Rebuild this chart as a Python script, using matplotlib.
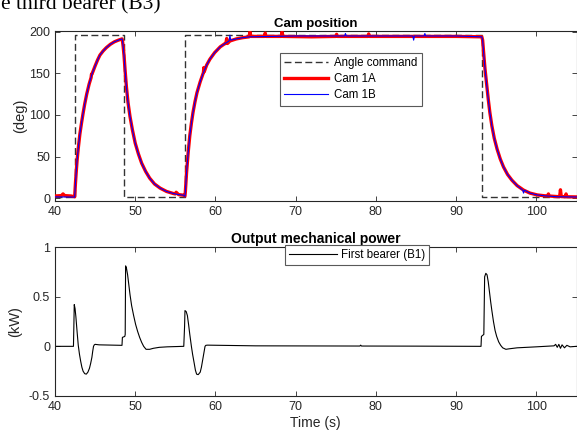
import matplotlib
matplotlib.use("Agg")
import matplotlib.pyplot as plt

# angle command (step levels, deg)
cmd_t = [40, 42.45, 48.55, 56.15, 93.25, 105]
cmd_v = [1.5, 196, 1.5, 196, 1.5, 1.5]

# Cam 1A (red)
cam1a_t = [40, 40.8, 41.0, 41.2, 42.0, 42.45,
           42.55, 42.65, 42.75, 42.9, 43.1, 43.3, 43.5, 43.7, 43.95, 44.25, 44.5, 44.55,
           44.6, 45.0, 45.3, 45.6, 46.0, 46.4, 46.9, 47.4, 47.9, 48.35,
           48.4, 48.5, 48.6, 48.75, 48.9, 49.1, 49.35, 49.65, 50.0, 50.4, 50.8, 51.3,
           51.8, 52.4, 53.1, 53.9, 54.75, 55.0, 55.1, 55.4, 56.0, 56.2,
           56.25, 56.4, 56.6, 56.8, 57.0, 57.2, 57.45, 57.7, 58.1, 58.5, 58.55, 58.6,
           58.9, 59.3, 59.9, 60.6, 61.2, 61.3, 61.4, 61.5, 61.8, 62.6, 63.4,
           64.2, 64.3, 64.4, 66.1, 66.2, 66.3, 68.2, 68.3, 68.4, 72, 75.0, 75.1, 75.2,
           79.0, 79.1, 79.2, 85, 90, 93.2,
           93.3, 93.45, 93.6, 93.8, 94.0, 94.2, 94.45, 94.75, 95.1, 95.5, 95.9, 96.4,
           96.95, 97.6, 98.4, 99.2, 100.1, 101.0, 101.4, 101.5, 101.6, 102.6, 102.9,
           103.0, 103.1, 103.6, 103.7, 103.8, 105]
cam1a_v = [2.5, 3, 5, 3, 2.5, 1.5,
           18, 32, 45, 60, 77, 90, 102, 113, 125, 137, 145, 149,
           149, 159, 166, 172, 177, 181, 185, 188, 190, 191.5,
           190, 182, 172, 152, 134, 115, 98, 82, 66, 53, 42, 32,
           24, 17, 12, 8, 5.5, 5, 7, 4.2, 3.5, 2.5,
           8, 31, 55, 75, 90, 103, 116, 127, 140, 151, 157, 152,
           160, 167, 175, 182, 186, 186, 192, 186, 189, 191.5, 193,
           194, 200, 194.5, 194.5, 198.5, 194.5, 194.5, 200, 194.5, 194, 194.5, 197, 194.5,
           194.5, 197.5, 194.5, 194.5, 194.5, 194,
           190, 172, 155, 137, 119, 103, 87, 72, 59, 47, 37.5, 28.5,
           21.5, 15, 9.6, 6, 3.8, 2.8, 2.6, 5, 2.5, 1.8, 1.8,
           10, 1.8, 1.6, 5, 1.6, 1.4]

# Cam 1B (blue)
cam1b_t = [40, 42.45,
           42.55, 42.65, 42.75, 42.9, 43.1, 43.3, 43.5, 43.7, 43.95, 44.25, 44.6, 45.0,
           45.3, 45.6, 46.0, 46.4, 46.9, 47.4, 47.9, 48.35,
           48.4, 48.5, 48.6, 48.75, 48.9, 49.1, 49.35, 49.65, 50.0, 50.4, 50.8, 51.3,
           51.8, 52.4, 53.1, 53.9, 54.75, 55.4, 56.0, 56.2,
           56.25, 56.4, 56.6, 56.8, 57.0, 57.2, 57.45, 57.7, 58.1, 58.5, 58.9, 59.3,
           59.9, 60.6, 61.2, 61.7, 61.8, 61.9, 62.6, 63.4, 64.3, 70, 76.1, 76.2, 76.3,
           84.6, 84.7, 84.8, 86.0, 86.1, 86.2, 90, 93.2,
           93.3, 93.45, 93.6, 93.8, 94.0, 94.2, 94.45, 94.75, 95.1, 95.5, 95.9, 96.4,
           96.95, 97.6, 98.3, 98.4, 98.5, 99.2, 100.1, 101.0, 102.6, 105]
cam1b_v = [1.5, 1.2,
           18, 32, 45, 60, 77, 90, 102, 113, 125, 137, 149, 159,
           166, 172, 177, 181, 185, 188, 190, 191.5,
           190, 182, 172, 152, 134, 115, 98, 82, 66, 53, 42, 32,
           24, 17, 12, 8, 5.5, 4.2, 3.5, 2,
           8, 31, 55, 75, 90, 103, 116, 127, 140, 151, 160, 167,
           175, 182, 186, 189, 196, 190, 191.5, 193, 194, 195, 195, 198, 195,
           195, 190, 195, 195, 198, 195, 195, 194,
           190, 172, 155, 137, 119, 103, 87, 72, 59, 47, 37.5, 28.5,
           21.5, 15, 9.6, 6, 9.6, 6, 3.8, 2.8, 1.6, 1.3]

# output mechanical power of first bearer (kW)
pw_t = [40, 42.3, 42.35, 42.4, 42.5, 42.6, 42.75, 42.9, 43.05, 43.2, 43.35, 43.5, 43.7,
        43.9, 44.1, 44.3, 44.45, 44.6, 44.7, 44.8, 44.9, 45.0, 45.5, 48.35,
        48.4, 48.7, 48.75, 48.8, 48.9, 49.05, 49.2, 49.35, 49.55, 49.8, 50.05, 50.3,
        50.55, 50.8, 51.05, 51.35, 51.8, 52.25, 53, 54, 56.05,
        56.15, 56.2, 56.35, 56.5, 56.65, 56.8, 57.0, 57.15, 57.35, 57.5, 57.65, 57.85,
        58.1, 58.25, 58.4, 58.55, 58.7, 58.8, 59.0, 65, 78, 78.1, 78.2, 85, 93.1,
        93.15, 93.45, 93.55, 93.7, 93.85, 94.0, 94.15, 94.3, 94.45, 94.65, 94.85, 95.05,
        95.3, 95.55, 95.8, 96.2, 96.6, 97.6, 100, 102.2, 102.4, 102.6, 102.8, 103.0,
        103.2, 103.5, 103.8, 104.2, 105]
pw_v = [0, 0, 0.2, 0.42, 0.38, 0.30, 0.15, 0.01, -0.08, -0.15, -0.21, -0.25, -0.275,
        -0.28, -0.26, -0.22, -0.17, -0.11, -0.05, 0.0, 0.015, 0.02, 0.015, 0.01,
        0.09, 0.10, 0.12, 0.81, 0.79, 0.72, 0.62, 0.52, 0.41, 0.31, 0.22, 0.15,
        0.09, 0.04, 0.0, -0.03, -0.03, -0.02, -0.01, -0.005, 0.0,
        0.2, 0.36, 0.35, 0.31, 0.22, 0.12, 0.0, -0.08, -0.17, -0.24, -0.28, -0.285,
        -0.26, -0.21, -0.14, -0.07, 0.0, 0.01, 0.012, 0.005, 0.003, 0.012, 0.003, 0.002, 0.0,
        0.1, 0.12, 0.7, 0.735, 0.72, 0.65, 0.55, 0.45, 0.36, 0.25, 0.16, 0.10,
        0.045, 0.01, -0.015, -0.03, -0.025, -0.015, -0.005, 0.005, 0.02, -0.01, 0.02, -0.02,
        0.015, -0.015, 0.01, -0.005, 0.0]

xticks = [40, 50, 60, 70, 80, 90, 100]
cam_yticks = [0, 50, 100, 150, 200]
pw_yticks = [-0.5, 0, 0.5, 1]

plt.rcParams["font.family"] = ["Liberation Sans", "DejaVu Sans"]
plt.rcParams["font.size"] = 9
tc = "#262626"

fig = plt.figure(figsize=(5.77, 4.32), dpi=100)
W, H = 577.0, 432.0
ax1 = fig.add_axes([55 / W, 1 - 201 / H, 521.5 / W, 170 / H])
ax2 = fig.add_axes([55 / W, 1 - 396 / H, 521.5 / W, 149 / H])

fig.text(0.001, 1 - 9.5 / H, "e third bearer (B3)", family="Liberation Serif",
         fontsize=15.5, va="baseline", ha="left", color="black")

ax1.plot(cmd_t, cmd_v, drawstyle="steps-post", color="0.2",
         lw=1.0, ls=(0, (5, 2.5)), label="Angle command", zorder=2)
ax1.plot(cam1a_t, cam1a_v, color="#ff0000", lw=2.4, label="Cam 1A", zorder=3)
ax1.plot(cam1b_t, cam1b_v, color="#0000ff", lw=0.8, label="Cam 1B", zorder=4)
ax1.set_xlim(40, 105)
ax1.set_ylim(-3.5, 201)
ax1.set_yticks(cam_yticks)
ax1.set_xticks(xticks)
ax1.set_title("Cam position", fontweight="bold", fontsize=9.5, pad=3, color="black")
ax1.set_ylabel("(deg)", color=tc, fontsize=10.5)
ax1.yaxis.set_label_coords(-0.054, 0.5)
leg1 = ax1.legend(loc="upper left", bbox_to_anchor=(0.431, 0.872), borderaxespad=0,
                  handlelength=3.8, handletextpad=0.5, labelspacing=0.35, fontsize=8.3,
                  fancybox=False, framealpha=1, edgecolor="0.35", borderpad=0.4)
leg1.get_frame().set_linewidth(0.8)

ax2.plot(pw_t, pw_v, color="black", lw=0.8, label="First bearer (B1)")
ax2.set_xlim(40, 105)
ax2.set_ylim(-0.5, 1)
ax2.set_yticks(pw_yticks)
ax2.set_yticklabels(["-0.5", "0", "0.5", "1"])
ax2.set_xticks(xticks)
ax2.set_title("Output mechanical power", fontweight="bold", fontsize=10, pad=3,
              color="black")
ax2.set_ylabel("(kW)", color=tc, fontsize=10.5)
ax2.yaxis.set_label_coords(-0.063, 0.5)
ax2.set_xlabel("Time (s)", color=tc, labelpad=2, fontsize=10)
leg2 = ax2.legend(loc="upper left", bbox_to_anchor=(0.441, 1.013), borderaxespad=0,
                  handlelength=4.2, handletextpad=0.3, fontsize=8.3, fancybox=False,
                  framealpha=1, edgecolor="0.35", borderpad=0.35)
leg2.get_frame().set_linewidth(0.8)

for ax in (ax1, ax2):
    ax.tick_params(direction="in", length=3.5, width=0.6, top=True, right=True,
                   colors=tc, labelsize=9, pad=3.5)
    for s in ax.spines.values():
        s.set_linewidth(0.8)
        s.set_color(tc)

fig.savefig("out.png", dpi=100)
